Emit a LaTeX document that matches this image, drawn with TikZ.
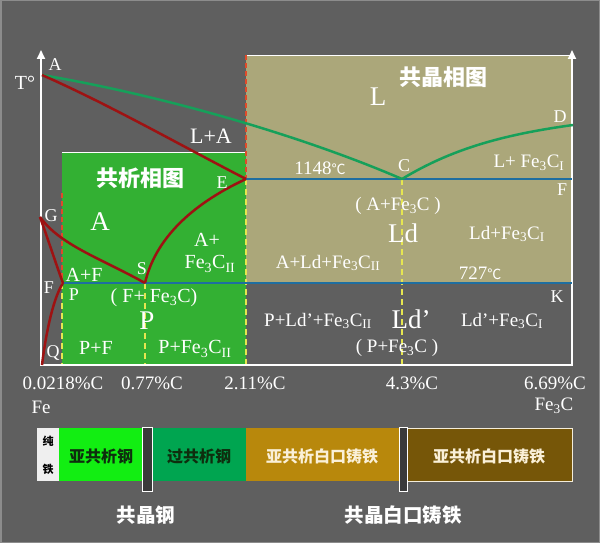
\documentclass[tikz,border=0pt]{standalone}
\usepackage{fontspec}
\setmainfont{Liberation Serif}
\newfontfamily\cjk{Noto Sans CJK SC}
\usetikzlibrary{arrows.meta}
\definecolor{bg}{HTML}{5F5F5F}
\definecolor{frame}{HTML}{8C8C8C}
\definecolor{tan}{HTML}{ABA77A}
\definecolor{greg}{HTML}{33B033}
\definecolor{gline}{HTML}{16A05A}
\definecolor{rline}{HTML}{9E1212}
\definecolor{bline}{HTML}{1E6EA0}
\definecolor{ydash}{HTML}{E6E650}
\definecolor{rdash}{HTML}{E04A2A}
\definecolor{barw}{HTML}{EFEFEF}
\definecolor{barg}{HTML}{12EE12}
\definecolor{barg2}{HTML}{00A550}
\definecolor{bargold}{HTML}{B8880C}
\definecolor{barbrown}{HTML}{765608}
\definecolor{barsep}{HTML}{3A3A3A}
\definecolor{darkt}{HTML}{0E2E0E}
\definecolor{creamt}{HTML}{FAF0D8}
\newcommand{\fec}{Fe\textsubscript{3}C}
\newcommand{\dgc}{{\cjk\fontsize{14}{14}\selectfont ℃}}
\begin{document}
\begin{tikzpicture}[x=1pt,y=-1pt,
  lab/.style={text=white,font=\fontsize{20}{20}\selectfont,inner sep=0pt},
  letter/.style={text=white,font=\fontsize{18}{18}\selectfont,inner sep=0pt},
  biglab/.style={text=white,font=\fontsize{27}{27}\selectfont,inner sep=0pt},
  smalllab/.style={text=white,font=\fontsize{19}{19}\selectfont,inner sep=0pt},
  axlab/.style={text=white,font=\fontsize{19}{19}\selectfont,inner sep=0pt},
  title/.style={text=white,font=\cjk\bfseries\fontsize{22}{22}\selectfont,inner sep=0pt},
  curve/.style={line width=2.5pt},
  axis/.style={draw=white,line width=2pt},
  yd/.style={draw=ydash,line width=1.8pt,dash pattern=on 6pt off 4pt},
  rd/.style={draw=rdash,line width=2pt,dash pattern=on 5pt off 3pt},
  bartext/.style={font=\cjk\bfseries\fontsize{16}{16}\selectfont,inner sep=0pt},
  sepbar/.style={fill=barsep,draw=white!75,line width=0.8pt},
  bottomt/.style={text=white,font=\cjk\bfseries\fontsize{19.5}{19.5}\selectfont,inner sep=0pt}]
\fill[bg] (0,0) rectangle (600,543);
\useasboundingbox (0,0) rectangle (600,543);
\draw[frame,line width=1.5pt] (0.75,0.75) rectangle (599.25,542.25);

% regions
\fill[tan] (246,55) rectangle (572,283);
\draw[white!70,line width=0.8pt] (246,55) -- (572,55);
\fill[greg] (62,152) rectangle (246,365);
\draw[white!80,line width=0.8pt] (62,152) -- (246,152);

% key points
\coordinate (A) at (42,75);
\coordinate (C) at (402,179);
\coordinate (D) at (573,125);
\coordinate (E) at (246,179);
\coordinate (EF) at (572,179);
\coordinate (G) at (40,217);
\coordinate (S) at (145,283);
\coordinate (P) at (63,283);
\coordinate (K) at (572,283);
\coordinate (Q) at (42,365);

% dashed lines
\draw[rd] (246,55) -- (E);
\draw[yd] (E) -- (246,365);
\draw[rd] (62,193) -- (62,283);
\draw[yd] (62,283) -- (62,365);
\draw[yd] (S) -- (145,365);
\draw[yd] (C) -- (402,365);

% axes
\draw[axis,-{Triangle[width=8pt,length=9pt]}] (41,366) -- (41,50);
\draw[axis,-{Triangle[width=8pt,length=9pt]}] (572,366) -- (572,50);
\draw[axis] (40,365) -- (573,365);

% blue lines
\draw[bline,curve] (E) -- (EF);
\draw[bline,curve] (P) -- (K);

% green lines
\draw[gline,curve] (A) .. controls (160,95) and (300,135) .. (C);
\draw[gline,curve] (C) .. controls (450,150) and (500,135) .. (D);

% red lines
\draw[rline,curve] (A) .. controls (110,105) and (180,145) .. (E);
\draw[rline,curve] (E) .. controls (190,205) and (155,240) .. (S);
\draw[rline,curve] (G) .. controls (60,245) and (100,258) .. (S);
\draw[rline,curve] (G) .. controls (50,245) and (58,270) .. (P);
\draw[rline,curve] (P) .. controls (52,300) and (45,340) .. (Q);

% labels left
\node[lab] (lT) at (25,83) {T°};
\node[letter] (lA) at (55,65) {A};
\node[lab,font=\fontsize{22}{22}\selectfont] (lLA) at (211,136) {L+A};
\node[title] (t1) at (140,178) {共析相图};
\node[letter] (lE) at (222,183) {E};
\node[biglab] (lAA) at (100,222) {A};
\node[letter] (lG) at (51,216) {G};
\node[lab] (lAp) at (207,240) {A+};
\node[lab] (lFeII) at (210,264) {\fec\textsubscript{II}};
\node[lab] (lAF) at (84,275) {A+F};
\node[letter] (lS) at (142,269) {S};
\node[letter] (lF) at (49,288) {F};
\node[letter] (lP) at (74,295) {P};
\node[lab] (lFF) at (154,298) {( F+ \fec )};
\node[biglab] (lPP) at (147,321) {P};
\node[letter] (lQ) at (53,353) {Q};
\node[lab] (lPF) at (96,348) {P+F};
\node[lab] (lPFe) at (195,349) {P+\fec\textsubscript{II}};

% labels right
\node[title] (t2) at (443,77) {共晶相图};
\node[biglab] (lL) at (378,97) {L};
\node[letter] (lD) at (560,117) {D};
\node[smalllab] (l1148) at (320,168) {1148\dgc};
\node[letter] (lC) at (404,166) {C};
\node[smalllab] (lLFe) at (529,163) {L+ \fec\textsubscript{I}};
\node[letter] (lF2) at (562,190) {F};
\node[smalllab] (lAFe) at (398,206) {( A+\fec\ )};
\node[biglab] (lLd) at (403,233) {Ld};
\node[smalllab] (lLdFe) at (507,234) {Ld+\fec\textsubscript{I}};
\node[smalllab] (lALd) at (328,263) {A+Ld+\fec\textsubscript{II}};
\node[smalllab] (l727) at (480,273) {727\dgc};
\node[letter] (lK) at (557,297) {K};
\node[smalllab] (lPLd) at (318,321) {P+Ld’+\fec\textsubscript{II}};
\node[biglab] (lLdd) at (411,319) {Ld’};
\node[smalllab] (lLddFe) at (502,321) {Ld’+\fec\textsubscript{I}};
\node[smalllab] (lPFe2) at (397,348) {( P+\fec\ )};

% axis labels
\node[axlab] (x1) at (63,383) {0.0218\%C};
\node[axlab] (x1b) at (41,407) {Fe};
\node[axlab] (x2) at (152,383) {0.77\%C};
\node[axlab] (x3) at (255,383) {2.11\%C};
\node[axlab] (x4) at (412,383) {4.3\%C};
\node[axlab] (x5) at (555,383) {6.69\%C};
\node[axlab] (x5b) at (554,406) {\fec};

% bar
\fill[barw] (37,428) rectangle (59,481);
\fill[barg] (59,428) rectangle (142,481);
\fill[barg2] (152,428) rectangle (246,481);
\fill[bargold] (246,428) rectangle (399,481);
\fill[barbrown] (407,428) rectangle (572,481);
\draw[white!85!bargold,line width=0.8pt] (407,428) rectangle (572,481);
\draw[sepbar] (142,427) rectangle (152,491);
\draw[sepbar] (399,427) rectangle (407,491);
\node[bartext,font=\cjk\bfseries\fontsize{11}{11}\selectfont,text=black] (b0a) at (48,441) {纯};
\node[bartext,font=\cjk\bfseries\fontsize{11}{11}\selectfont,text=black] (b0b) at (48,469) {铁};
\node[bartext,text=darkt] (b1) at (101,456) {亚共析钢};
\node[bartext,text=darkt] (b2) at (199,456) {过共析钢};
\node[bartext,text=creamt] (b3) at (322,456) {亚共析白口铸铁};
\node[bartext,text=creamt] (b4) at (489,456) {亚共析白口铸铁};
\node[bottomt] (c1) at (146,515) {共晶钢};
\node[bottomt] (c2) at (403,515) {共晶白口铸铁};
\end{tikzpicture}
\end{document}
